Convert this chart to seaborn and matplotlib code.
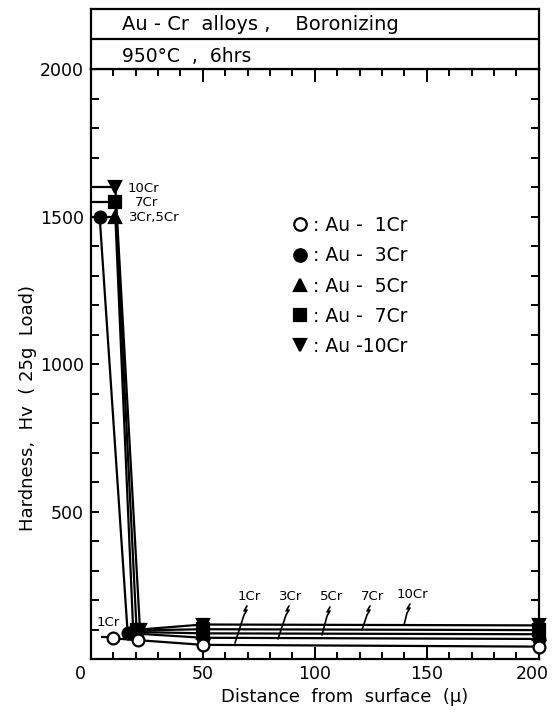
import matplotlib
matplotlib.use("Agg")
import matplotlib.pyplot as plt
import matplotlib.transforms as mtransforms
from matplotlib.lines import Line2D
import seaborn as sns
import pandas as pd

# ---------------- data ----------------
alloys = ["Au -  1Cr", "Au -  3Cr", "Au -  5Cr", "Au -  7Cr", "Au -10Cr"]
short_names = ["1Cr", "3Cr", "5Cr", "7Cr", "10Cr"]

dist_1cr = [10, 21, 50, 200]
hv_1cr = [70, 64, 48, 42]
dist_3cr = [4, 16.5, 50, 200]
hv_3cr = [1500, 88, 72, 68]
dist_5cr = [11, 19, 50, 200]
hv_5cr = [1500, 92, 87, 84]
dist_7cr = [11, 20.5, 50, 200]
hv_7cr = [1550, 97, 101, 98]
dist_10cr = [11, 22, 50, 200]
hv_10cr = [1600, 100, 117, 114]

x_ticks = [0, 50, 100, 150, 200]
x_ticklabels = ["", "50", "100", "150", "200"]
y_ticks = [0, 500, 1000, 1500, 2000]
y_ticklabels = ["", "500", "1000", "1500", "2000"]

title_line1 = "Au - Cr  alloys ,    Boronizing"
title_line2 = "950°C  ,  6hrs"
x_label = "Distance  from  surface  (µ)"
y_label = "Hardness,  Hv  ( 25g  Load)"

dists = [dist_1cr, dist_3cr, dist_5cr, dist_7cr, dist_10cr]
hvs = [hv_1cr, hv_3cr, hv_5cr, hv_7cr, hv_10cr]
rows = []
for name, xs, ys in zip(alloys, dists, hvs):
    for xv, yv in zip(xs, ys):
        rows.append({"alloy": name, "dist": xv, "hv": yv})
df = pd.DataFrame(rows)

markers = ["o", "o", "^", "s", "v"]
faces = ["white", "black", "black", "black", "black"]

# ---------------- figure ----------------
sns.set_theme(style="white")
plt.rcParams["font.family"] = ["DejaVu Sans"]
plt.rcParams["text.color"] = "black"
plt.rcParams["axes.labelcolor"] = "black"
plt.rcParams["xtick.color"] = "black"
plt.rcParams["ytick.color"] = "black"

W, H = 552, 712
fig = plt.figure(figsize=(W / 100, H / 100), dpi=100)

L, R, T, B = 90.7, 538.7, 69.3, 659.0
ax = fig.add_axes([L / W, 1 - B / H, (R - L) / W, (B - T) / H])

for i, name in enumerate(alloys):
    sub = df[df["alloy"] == name]
    sns.lineplot(data=sub, x="dist", y="hv", ax=ax, color="black",
                 marker=markers[i], markerfacecolor=faces[i],
                 markeredgecolor="black", markeredgewidth=1.6,
                 markersize=8.5, linewidth=1.6, sort=False,
                 estimator=None, legend=False, clip_on=False,
                 zorder=3 + (1 if i == 0 else 0))

ax.set_xlim(0, 200)
ax.set_ylim(0, 2000)

# leader lines from the axis to the surface values
ax.hlines([hv_10cr[0], hv_7cr[0], hv_5cr[0]], 0,
          [dist_10cr[0], dist_7cr[0], dist_5cr[0]],
          color="black", linewidth=1.6, zorder=2)
ax.hlines([76], 4.8, 7.8, color="black", linewidth=1.6, zorder=2)

ax.set_xticks(x_ticks)
ax.set_xticklabels(x_ticklabels)
ax.set_xticks(list(range(0, 201, 10)), minor=True)
ax.set_yticks(y_ticks)
ax.set_yticklabels(y_ticklabels)
ax.set_yticks(list(range(0, 2001, 100)), minor=True)
ax.tick_params(axis="both", which="both", direction="in", top=True,
               right=True, bottom=True, left=True, width=1.4,
               colors="black", labelsize=12.5)
ax.tick_params(axis="x", which="major", length=9, pad=4)
ax.tick_params(axis="x", which="minor", length=5)
ax.tick_params(axis="y", which="both", length=6, pad=5)
for sp in ax.spines.values():
    sp.set_linewidth(1.6)
    sp.set_color("black")
ax.set_xlabel("")
ax.set_ylabel("")

# nudge the last x tick label left so it stays inside the canvas
shift = mtransforms.ScaledTranslation(-6 / 100, 0, fig.dpi_scale_trans)
lbl = ax.get_xticklabels()[-1]
lbl.set_transform(lbl.get_transform() + shift)

fig.text(80 / W, 1 - 674 / H, "0", ha="center", va="center", fontsize=12.5)
fig.text(345 / W, 1 - 697 / H, x_label, ha="center", va="center", fontsize=13)
fig.text(28 / W, 1 - 408 / H, y_label, ha="center", va="center",
         rotation=90, fontsize=13)

# ---------------- header boxes ----------------
hax = fig.add_axes([L / W, 1 - T / H, (R - L) / W, (T - 9.3) / H])
hax.set_xlim(0, 1)
hax.set_ylim(0, 1)
hax.set_xticks([])
hax.set_yticks([])
for sp in hax.spines.values():
    sp.set_linewidth(1.6)
    sp.set_color("black")
hax.axhline(0.5, color="black", linewidth=1.6)
hax.text(0.069, 0.74, title_line1, ha="left", va="center", fontsize=14)
hax.text(0.069, 0.21, title_line2, ha="left", va="center", fontsize=13.5)

# ---------------- legend ----------------
handles = [Line2D([], [], linestyle="none", marker=m, markersize=9,
                  markerfacecolor=f, markeredgecolor="black",
                  markeredgewidth=1.6) for m, f in zip(markers, faces)]
labels = [": " + a for a in alloys]
ax.legend(handles, labels, loc="upper left", frameon=False,
          bbox_to_anchor=(292 / W, 1 - 216 / H), bbox_transform=fig.transFigure,
          handlelength=0.8, handletextpad=0.3, labelspacing=0.6,
          borderpad=0, borderaxespad=0, fontsize=13.5)

# ---------------- annotations ----------------
def px2d(px, py):
    return ((px - L) / (R - L) * 200, (B - py) / (B - T) * 2000)

top_labels = [("10Cr", 128, 188), ("7Cr", 135, 203), ("3Cr,5Cr", 129, 218)]
for txt, px, py in top_labels:
    xd, yd = px2d(px, py)
    ax.text(xd, yd, txt, ha="left", va="center", fontsize=9.5)

xd, yd = px2d(108, 623)
ax.text(xd, yd, "1Cr", ha="center", va="center", fontsize=9.5)

zig = [(245, 613, 235, 643), (287, 613, 278, 639), (328, 614, 322, 635),
       (368, 613, 362, 630), (408, 611, 404, 625)]
for name, (x0, y0, x1, y1) in zip(short_names, zig):
    lx, ly = px2d(x0 + 4, y0 - 17)
    ax.text(lx, ly, name, ha="center", va="center", fontsize=9.5)
    pts = [(x0 + 2, y0 - 7), (x0 - 1, y0 - 2), (x0 + 2, y0 - 3),
           (x0 - 1, y0 + 2), (x1, y1)]
    d = [px2d(a, b) for a, b in pts]
    ax.plot([p[0] for p in d], [p[1] for p in d], color="black",
            linewidth=1.2, zorder=2)

fig.savefig("out.png", dpi=100)
